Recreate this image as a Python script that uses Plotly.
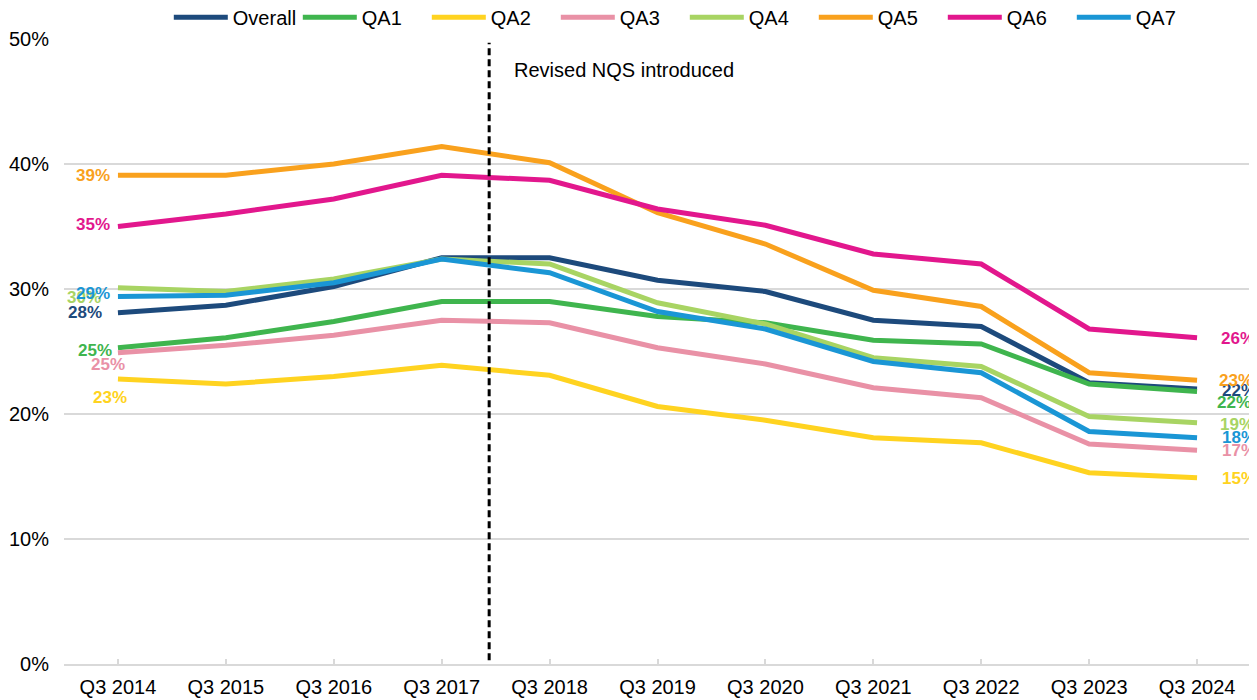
import plotly.graph_objects as go

categories = ["Q3 2014", "Q3 2015", "Q3 2016", "Q3 2017", "Q3 2018", "Q3 2019",
              "Q3 2020", "Q3 2021", "Q3 2022", "Q3 2023", "Q3 2024"]

overall = [28.1, 28.7, 30.2, 32.5, 32.5, 30.7, 29.8, 27.5, 27.0, 22.5, 22.0]
qa1 = [25.3, 26.1, 27.4, 29.0, 29.0, 27.8, 27.3, 25.9, 25.6, 22.4, 21.8]
qa2 = [22.8, 22.4, 23.0, 23.9, 23.1, 20.6, 19.5, 18.1, 17.7, 15.3, 14.9]
qa3 = [24.9, 25.5, 26.3, 27.5, 27.3, 25.3, 24.0, 22.1, 21.3, 17.6, 17.1]
qa4 = [30.1, 29.8, 30.8, 32.4, 32.0, 28.9, 27.2, 24.5, 23.8, 19.8, 19.3]
qa5 = [39.1, 39.1, 40.0, 41.4, 40.1, 36.1, 33.6, 29.9, 28.6, 23.3, 22.7]
qa6 = [35.0, 36.0, 37.2, 39.1, 38.7, 36.4, 35.1, 32.8, 32.0, 26.8, 26.1]
qa7 = [29.4, 29.5, 30.5, 32.4, 31.3, 28.2, 26.8, 24.2, 23.3, 18.6, 18.1]

series_names = ["Overall", "QA1", "QA2", "QA3", "QA4", "QA5", "QA6", "QA7"]
series_values = [overall, qa1, qa2, qa3, qa4, qa5, qa6, qa7]
series_colors = ["#1D4A7C", "#3FB54E", "#FFD320", "#E991A6", "#A8D463",
                 "#F9A11D", "#E2178D", "#1A96D5"]

# label offsets (px) for first / last point labels: (xshift, yshift)
left_offsets = [(-14, 0), (-4, -3), (11, -18), (9, -12), (-15, -10), (-6, 0), (-6, 2), (-6, 3)]
right_offsets = [(23, -1), (18, -11), (23, -1), (23, 0), (21, -2), (20, 0), (22, -1), (23, 0)]

nqs_x = 3.44
nqs_text = "Revised NQS introduced"

FONT = "Arial, 'Liberation Sans', sans-serif"

fig = go.Figure()
for name, vals, col in zip(series_names, series_values, series_colors):
    fig.add_trace(go.Scatter(x=categories, y=vals, name=name, mode="lines",
                             line=dict(color=col, width=5), cliponaxis=False))

annotations = []
for name, vals, col, lo, ro in zip(series_names, series_values, series_colors,
                                   left_offsets, right_offsets):
    annotations.append(dict(x=categories[0], y=vals[0], text=f"{round(vals[0])}%",
                            showarrow=False, xanchor="right", yanchor="middle",
                            xshift=lo[0], yshift=lo[1],
                            font=dict(family=FONT, size=17, color=col, weight="bold")))
    annotations.append(dict(x=categories[-1], y=vals[-1], text=f"{round(vals[-1])}%",
                            showarrow=False, xanchor="left", yanchor="middle",
                            xshift=ro[0], yshift=ro[1],
                            font=dict(family=FONT, size=17, color=col, weight="bold")))

annotations.append(dict(x=nqs_x, y=47.5, xref="x", yref="y", text=nqs_text,
                        showarrow=False, xanchor="left", yanchor="middle", xshift=23,
                        font=dict(family=FONT, size=20, color="#000000")))

fig.add_shape(type="line", xref="x", yref="y", x0=nqs_x, x1=nqs_x, y0=0.3, y1=49.7,
              line=dict(color="#000000", width=3, dash="7px,4px"))

# the page body has an 8px margin, so the figure is 8px smaller and offset
fig.update_layout(
    width=1249, height=692,
    margin=dict(l=56, r=6, t=31, b=36, autoexpand=False),
    paper_bgcolor="white", plot_bgcolor="white",
    font=dict(family=FONT, size=19, color="#000000"),
    annotations=annotations,
    showlegend=True,
    legend=dict(orientation="h", x=0.523, xanchor="center", y=1.035, yanchor="middle",
                font=dict(family=FONT, size=20, color="#000000"),
                itemwidth=54, entrywidth=60, bgcolor="rgba(0,0,0,0)"),
    xaxis=dict(type="category", range=[-0.5, 10.5], showgrid=False, zeroline=False,
               showline=True, linecolor="#D9D9D9", linewidth=1.5,
               ticks="inside", ticklen=5, tickcolor="#D9D9D9", tickwidth=1.5,
               tickfont=dict(family=FONT, size=20, color="#000000"),
               ticklabelstandoff=4, automargin=False),
    yaxis=dict(range=[0, 50], dtick=10, ticksuffix="%", showgrid=True,
               gridcolor="#D9D9D9", gridwidth=1.5, zeroline=False, showline=False,
               tickfont=dict(family=FONT, size=20, color="#000000"),
               ticklabelstandoff=14, automargin=False),
)

fig.write_html("out.html")
